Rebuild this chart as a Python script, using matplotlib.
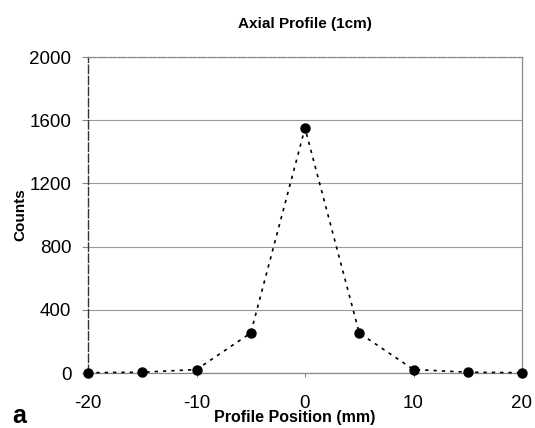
import matplotlib
matplotlib.use("Agg")
import matplotlib.pyplot as plt

positions = [-20, -15, -10, -5, 0, 5, 10, 15, 20]
counts = [2, 5, 22, 253, 1550, 253, 22, 5, 2]
yticks = [0, 400, 800, 1200, 1600, 2000]
xticks = [-20, -10, 0, 10, 20]

plt.rcParams['font.family'] = ['Liberation Sans', 'DejaVu Sans']
plt.rcParams['axes.unicode_minus'] = False
fig = plt.figure(figsize=(5.35, 4.28), dpi=100)
ax = fig.add_axes([88/535, 1-373/428, (522-88)/535, (373-57)/428])

ax.plot(positions, counts, linestyle=(0, (2, 3)), color='black', linewidth=1.2,
        marker='o', markersize=6.5, markerfacecolor='black', zorder=3, clip_on=False)

ax.set_xlim(-20, 20)
ax.set_ylim(0, 2000)
ax.set_yticks(yticks)
ax.set_xticks(xticks)
ax.tick_params(axis='both', labelsize=13.5, color='#888888', length=4)
ax.tick_params(axis='y', pad=8)
ax.tick_params(axis='x', direction='out', length=3, pad=12.5)
ax.grid(axis='y', color='#999999', linewidth=0.8)
ax.set_axisbelow(True)
for s in ['right', 'bottom', 'top']:
    ax.spines[s].set_color('#888888')
    ax.spines[s].set_linewidth(0.9)
ax.spines['top'].set_linestyle((0, (6, 2)))
ax.spines['left'].set_color('#333333')
ax.spines['left'].set_linestyle((0, (6, 2)))
ax.spines['left'].set_linewidth(1.0)

ax.set_title('Axial Profile (1cm)', fontsize=11, fontweight='bold', pad=21)
ax.set_xlabel('Profile Position (mm)', fontsize=11.5, fontweight='bold')
ax.xaxis.set_label_coords((295-88)/434, -0.118)
ax.set_ylabel('Counts', fontsize=11, fontweight='bold')
ax.yaxis.set_label_coords(-(88-27)/434, 0.5)
fig.text(12/535, 1-423/428, 'a', fontsize=18, fontweight='bold')

fig.savefig('out.png', dpi=100)
